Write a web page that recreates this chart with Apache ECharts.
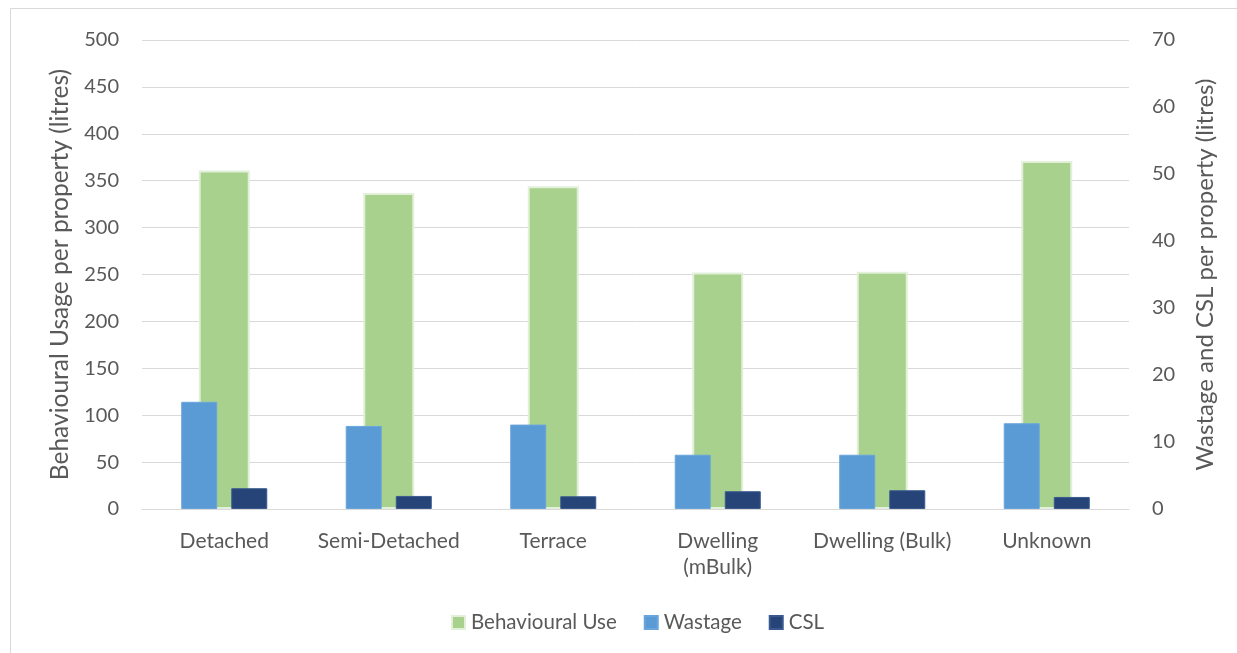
<!DOCTYPE html>
<html>
<head>
<meta charset="utf-8">
<script src="https://cdn.jsdelivr.net/npm/echarts@6/dist/echarts.min.js"></script>
<style>html,body{margin:0;padding:0;background:#fff}#c{width:1237px;height:653px}</style>
</head>
<body>
<div id="c"></div>
<script>
const categories = ['Detached', 'Semi-Detached', 'Terrace', 'Dwelling\n(mBulk)', 'Dwelling (Bulk)', 'Unknown'];
const behaviouralUse = [361, 337, 344, 252, 253, 371];
const wastage = [16.0, 12.4, 12.6, 8.1, 8.1, 12.8];
const csl = [3.1, 1.95, 1.9, 2.65, 2.8, 1.8];
const leftTicks = {min: 0, max: 500, interval: 50};
const rightTicks = {min: 0, max: 70, interval: 10};

const font = 'Lato, "Open Sans", sans-serif';
const txt = '#595959';
const chart = echarts.init(document.getElementById('c'));
chart.setOption({
  animation: false,
  graphic: [{type: 'rect', shape: {x: 10.5, y: 8.5, width: 1400, height: 800}, style: {fill: 'none', stroke: '#d9d9d9', lineWidth: 1}, silent: true}],
  grid: {left: 142, right: 108, top: 40, bottom: 144},
  legend: {
    left: 446, top: 607, itemWidth: 13, itemHeight: 13, itemGap: 27,
    icon: 'rect',
    textStyle: {fontFamily: font, fontSize: 20.5, color: txt, padding: [0, 0, 0, 1]},
    data: ['Behavioural Use', 'Wastage', 'CSL']
  },
  xAxis: [
    {type: 'category', data: categories, axisTick: {show: false},
     axisLine: {lineStyle: {color: '#d9d9d9', width: 1}},
     axisLabel: {fontFamily: font, fontSize: 21, color: txt, margin: 19, lineHeight: 26, interval: 0}},
    {type: 'category', data: categories, show: false}
  ],
  yAxis: [
    {type: 'value', min: leftTicks.min, max: leftTicks.max, interval: leftTicks.interval,
     name: 'Behavioural Usage per property (litres)', nameLocation: 'middle', nameGap: 69,
     nameTextStyle: {fontFamily: font, fontSize: 24.5, color: txt},
     axisLabel: {fontFamily: font, fontSize: 20, color: txt, margin: 23},
     splitLine: {lineStyle: {color: '#d9d9d9', width: 1}}, axisLine: {show: false}, axisTick: {show: false}},
    {type: 'value', min: rightTicks.min, max: rightTicks.max, interval: rightTicks.interval, position: 'right',
     name: 'Wastage and CSL per property (litres)', nameLocation: 'middle', nameGap: 64,
     nameTextStyle: {fontFamily: font, fontSize: 24, color: txt},
     axisLabel: {fontFamily: font, fontSize: 20, color: txt, margin: 23},
     splitLine: {show: false}, axisLine: {show: false}, axisTick: {show: false}}
  ],
  series: [
    {name: 'Behavioural Use', type: 'bar', xAxisIndex: 0, yAxisIndex: 0, data: behaviouralUse,
     barWidth: 51, z: 1,
     itemStyle: {color: '#a9d18e', borderColor: '#e2f0d9', borderWidth: 2}},
    {name: 'Wastage', type: 'bar', xAxisIndex: 1, yAxisIndex: 1, data: wastage,
     barWidth: 36, barGap: '39%', z: 3,
     itemStyle: {color: '#5b9bd5', borderColor: '#6aa5db', borderWidth: 1}},
    {name: 'CSL', type: 'bar', xAxisIndex: 1, yAxisIndex: 1, data: csl,
     barWidth: 36, barGap: '39%', z: 3,
     itemStyle: {color: '#264478', borderColor: '#3a5a8f', borderWidth: 1}}
  ]
});
</script>
</body>
</html>
